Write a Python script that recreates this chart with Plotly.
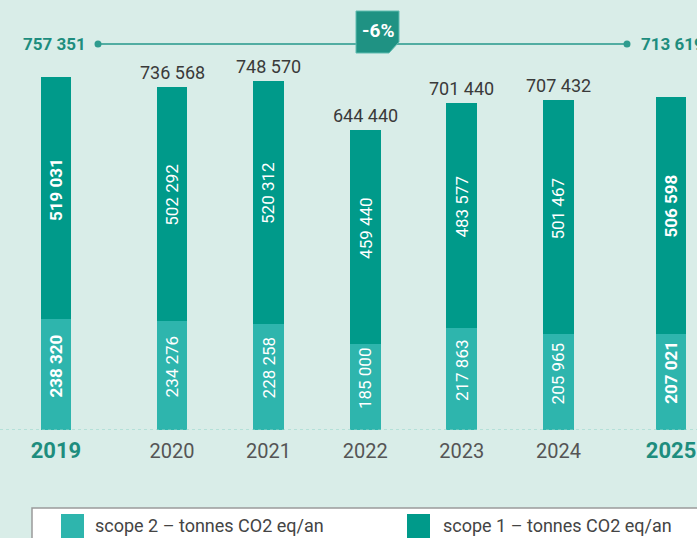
import plotly.graph_objects as go

years = [2019, 2020, 2021, 2022, 2023, 2024, 2025]
scope1 = [519031, 502292, 520312, 459440, 483577, 501467, 506598]
scope2 = [238320, 234276, 228258, 185000, 217863, 205965, 207021]
highlight_years = [2019, 2025]
change_label = "-6%"
legend_labels = ["scope 2 – tonnes CO2 eq/an", "scope 1 – tonnes CO2 eq/an"]

W, H = 697, 538
PLOT_H = 430
FONT = "Roboto"
BG = "#d9ede8"
C1 = "#009a8a"
C2 = "#2eb5ad"
TEAL_TXT = "#1e8d7e"
GRAY_TXT = "#3a3a3a"

offsets = {2019: -0.201, 2025: 0.166}
xpos = [y + offsets.get(y, 0.0) for y in years]
totals = [a + b for a, b in zip(scope1, scope2)]


def fmt(v):
    return f"{v:,}".replace(",", " ")


def px_x(p):
    return p / W


def px_y(p):
    return (PLOT_H - p) / PLOT_H


fig = go.Figure()
fig.add_trace(go.Bar(x=xpos, y=scope2, name=legend_labels[0], marker_color=C2,
                     width=0.32, marker_line_width=0, hoverinfo="skip"))
fig.add_trace(go.Bar(x=xpos, y=scope1, name=legend_labels[1], marker_color=C1,
                     width=0.32, marker_line_width=0, hoverinfo="skip"))

annotations = []
for x, yr, s1, s2, t in zip(xpos, years, scope1, scope2, totals):
    hl = yr in highlight_years
    for base, val in ((0, s2), (s2, s1)):
        txt = fmt(val)
        annotations.append(dict(
            x=x, y=base + val / 2, xref="x", yref="y", showarrow=False,
            xanchor="center", yanchor="middle",
            text=f"<b>{txt}</b>" if hl else txt, textangle=-90, yshift=9,
            font=dict(family=FONT, size=17, color="white")))
    if not hl:
        annotations.append(dict(
            x=x, y=t, xref="x", yref="y", showarrow=False, text=fmt(t),
            xanchor="center", yanchor="bottom", yshift=2,
            font=dict(family=FONT, size=18, color=GRAY_TXT)))

# start / end totals on the reference line
line_y = px_y(44)
annotations.append(dict(x=px_x(88), y=line_y, xref="paper", yref="paper", showarrow=False,
                        xanchor="right", yanchor="middle", text=f"<b>{fmt(totals[0])}</b>",
                        font=dict(family=FONT, size=17, color=TEAL_TXT)))
annotations.append(dict(x=px_x(639), y=line_y, xref="paper", yref="paper", showarrow=False,
                        xanchor="left", yanchor="middle", text=f"<b>{fmt(totals[-1])}</b>",
                        font=dict(family=FONT, size=17, color=TEAL_TXT)))
annotations.append(dict(x=px_x(378), y=px_y(31), xref="paper", yref="paper", showarrow=False,
                        xanchor="center", yanchor="middle",
                        text=f"<b>{change_label}</b>",
                        font=dict(family=FONT, size=19, color="white")))

shapes = []
# baseline
shapes.append(dict(type="line", xref="paper", yref="y", x0=0, x1=1, y0=0, y1=0,
                   line=dict(color="#8fd3c8", width=1.2, dash="3px,3px"), layer="above"))
# top reference line with dots
shapes.append(dict(type="line", xref="paper", yref="paper", x0=px_x(98), x1=px_x(627),
                   y0=line_y, y1=line_y, line=dict(color="#52ada2", width=2)))
for cx in (98, 627):
    r = 3.5
    shapes.append(dict(type="circle", xref="paper", yref="paper",
                       x0=px_x(cx - r), x1=px_x(cx + r), y0=px_y(44 + r), y1=px_y(44 - r),
                       fillcolor="#2f9c8f", line=dict(width=0)))
# badge with cut corner
bx0, bx1, by0, by1 = px_x(356), px_x(399), px_y(11), px_y(53)
shapes.append(dict(type="path", xref="paper", yref="paper",
                   path=f"M {bx0},{by0} L {bx1},{by0} L {bx1},{px_y(42)} L {px_x(389)},{by1} L {bx0},{by1} Z",
                   fillcolor="#1f9283", line=dict(color="#5fbcb0", width=1)))
# legend box
shapes.append(dict(type="rect", xref="paper", yref="paper",
                   x0=px_x(32), x1=px_x(720), y0=px_y(508), y1=px_y(560),
                   fillcolor="white", line=dict(color="#9a9a9a", width=1.5)))
for (sx, col, lab, tx) in ((61, C2, legend_labels[0], 93), (407, C1, legend_labels[1], 441)):
    shapes.append(dict(type="rect", xref="paper", yref="paper",
                       x0=px_x(sx), x1=px_x(sx + 23), y0=px_y(514), y1=px_y(540),
                       fillcolor=col, line=dict(width=0)))
    annotations.append(dict(x=px_x(tx), y=px_y(525), xref="paper", yref="paper",
                            showarrow=False, xanchor="left", yanchor="middle", text=lab,
                            font=dict(family=FONT, size=18, color="#444444")))

ticktext = []
for yr in years:
    if yr in highlight_years:
        ticktext.append(f"<b><span style='color:{TEAL_TXT};font-size:22px'>{yr}</span></b>")
    else:
        ticktext.append(f"<span style='color:#555555'>{yr}</span>")

px_per_unit = 96.6
x_left = 2020 - 172 / px_per_unit
x_right = x_left + W / px_per_unit
y_top = 757351 * PLOT_H / 353

fig.update_layout(
    width=W, height=H, barmode="stack", showlegend=False,
    paper_bgcolor=BG, plot_bgcolor=BG,
    margin=dict(l=0, r=0, t=0, b=H - PLOT_H, pad=0),
    xaxis=dict(range=[x_left, x_right], tickvals=xpos, ticktext=ticktext,
               showgrid=False, zeroline=False, showline=False,
               ticks="outside", ticklen=3, tickcolor="rgba(0,0,0,0)",
               tickfont=dict(family=FONT, size=20)),
    yaxis=dict(range=[0, y_top], visible=False, showgrid=False, zeroline=False),
    annotations=annotations, shapes=shapes,
)

fig.write_html("out.html", config={"displayModeBar": False},
               post_script="document.body.style.margin='0';document.body.style.overflow='hidden';")
